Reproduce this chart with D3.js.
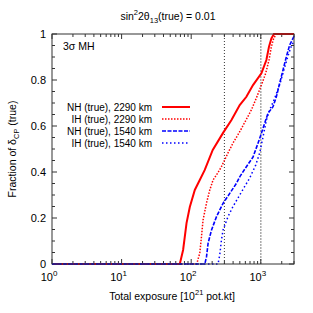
<!DOCTYPE html>
<html>
<head>
<meta charset="utf-8">
<script src="https://cdn.jsdelivr.net/npm/d3@7"></script>
<style>
body { margin: 0; background: #fff; }
text { font-family: "Liberation Sans", Arial, sans-serif; fill: #000; }
</style>
</head>
<body>
<div id="chart"></div>
<script>
// data: [exposure, fraction]
var nh2290 = [[1,0],[68.6,0],[76.5,0.061],[85.7,0.178],[95.5,0.248],[112.7,0.322],[132.8,0.365],[156.7,0.409],[204,0.496],[287,0.570],[379,0.626],[498,0.691],[621,0.727],[773,0.778],[1020,0.829],[1203,0.887],[1312,0.945],[1420,0.981],[1546,1],[3000,1]]
var ih2290 = [[1,0],[120,0],[133,0.048],[140.5,0.119],[148,0.191],[166,0.265],[185,0.322],[206,0.365],[240,0.395],[272,0.423],[338,0.483],[399,0.526],[498,0.575],[733,0.670],[865,0.722],[1020,0.778],[1176,0.829],[1312,0.887],[1420,0.945],[1531,0.981],[1674,1],[3000,1]]
var nh1540 = [[1,0],[157,0],[166,0.032],[175,0.091],[196,0.148],[231,0.206],[287,0.264],[358,0.307],[447,0.351],[498,0.379],[621,0.423],[773,0.465],[912,0.525],[1020,0.568],[1137,0.612],[1268,0.655],[1497,0.684],[1674,0.727],[1868,0.786],[2083,0.843],[2329,0.901],[2599,0.952],[2900,0.981],[3000,0.99]]
var ih1540 = [[1,0],[243,0],[257,0.039],[272,0.104],[287,0.148],[338,0.206],[399,0.250],[498,0.300],[693,0.374],[845,0.43],[964,0.483],[1077,0.553],[1203,0.626],[1342,0.670],[1583,0.72],[1868,0.78],[2133,0.84],[2432,0.90],[2685,0.94],[3000,0.97]]

var seriesNames = ["NH (true), 2290 km", "IH (true), 2290 km", "NH (true), 1540 km", "IH (true), 1540 km"]
var seriesData = [nh2290, ih2290, nh1540, ih1540]
var seriesColor = ["#ff0000", "#ff0000", "#0000ff", "#0000ff"]
var seriesDash = [null, "1.5,1.5", "4,1.5", "1.5,2.5"]
var seriesWidth = [2, 1.5, 1.6, 1.5]

var yTicks = [0, 0.2, 0.4, 0.6, 0.8, 1]
var xTicks = [1, 10, 100, 1000]
var xMarks = [300, 1000]

var width = 313
var height = 313
var margin = {left: 52, right: 19, top: 34, bottom: 49}

var svg = d3.select("#chart").append("svg")
    .attr("width", width)
    .attr("height", height)

var x = d3.scaleLog().domain([1, 3000]).range([margin.left, width - margin.right])
var y = d3.scaleLinear().domain([0, 1]).range([height - margin.bottom, margin.top])

// minor ticks
var xMinor = []
for (var e = 0; e < 4; e++) {
    for (var k = 2; k <= 9; k++) {
        var v = k * Math.pow(10, e)
        if (v <= 3000) xMinor.push(v)
    }
}
var yMinor = d3.range(0, 1.001, 0.05)

var g = svg.append("g")

// marker lines at 300 and 1000
g.append("line")
    .attr("x1", x(xMarks[0])).attr("x2", x(xMarks[0]))
    .attr("y1", y(0)).attr("y2", y(1))
    .attr("stroke", "#000").attr("stroke-width", 0.8).attr("stroke-dasharray", "1,2")
g.append("line")
    .attr("x1", x(xMarks[1])).attr("x2", x(xMarks[1]))
    .attr("y1", y(0)).attr("y2", y(1))
    .attr("stroke", "#aaa").attr("stroke-width", 1.5).attr("stroke-dasharray", "2,1")

// ticks (inward, both sides)
var tickG = g.append("g").attr("stroke", "#333").attr("stroke-width", 1)
xMinor.forEach(function (v) {
    tickG.append("line").attr("x1", x(v)).attr("x2", x(v)).attr("y1", y(0)).attr("y2", y(0) - 3)
    tickG.append("line").attr("x1", x(v)).attr("x2", x(v)).attr("y1", y(1)).attr("y2", y(1) + 3)
})
xTicks.forEach(function (v) {
    tickG.append("line").attr("x1", x(v)).attr("x2", x(v)).attr("y1", y(0)).attr("y2", y(0) - 5)
    tickG.append("line").attr("x1", x(v)).attr("x2", x(v)).attr("y1", y(1)).attr("y2", y(1) + 5)
})
yMinor.forEach(function (v) {
    var major = Math.abs(v * 5 - Math.round(v * 5)) < 1e-6
    var len = major ? 5 : 3
    tickG.append("line").attr("x1", x(1)).attr("x2", x(1) + len).attr("y1", y(v)).attr("y2", y(v))
    tickG.append("line").attr("x1", x(3000)).attr("x2", x(3000) - len).attr("y1", y(v)).attr("y2", y(v))
})

// curves
var line = d3.line().x(function (d) { return x(d[0]) }).y(function (d) { return y(d[1]) })
seriesData.forEach(function (s, i) {
    g.append("path")
        .datum(s)
        .attr("d", line)
        .attr("fill", "none")
        .attr("stroke", seriesColor[i])
        .attr("stroke-width", seriesWidth[i])
        .attr("stroke-dasharray", seriesDash[i])
})

// frame
g.append("rect")
    .attr("x", x(1)).attr("y", y(1))
    .attr("width", x(3000) - x(1)).attr("height", y(0) - y(1))
    .attr("fill", "none").attr("stroke", "#333").attr("stroke-width", 1)

// y tick labels
yTicks.forEach(function (v) {
    svg.append("text")
        .attr("x", x(1) - 6).attr("y", y(v) + 4)
        .attr("text-anchor", "end")
        .style("font-size", "11px")
        .text(v === 0 || v === 1 ? String(v) : v.toFixed(1))
})

// x tick labels 10^n
xTicks.forEach(function (v, i) {
    var t = svg.append("text")
        .attr("x", x(v) - 3).attr("y", y(0) + 17)
        .attr("text-anchor", "middle")
        .style("font-size", "11px")
    t.append("tspan").text("10")
    t.append("tspan").attr("dy", -5).style("font-size", "8px").text(String(i))
})

// axis titles
var xl = svg.append("text")
    .attr("x", 172).attr("y", 300)
    .attr("text-anchor", "middle")
    .style("font-size", "10.5px")
xl.append("tspan").text("Total exposure [10")
xl.append("tspan").attr("dy", -5).style("font-size", "7.5px").text("21")
xl.append("tspan").attr("dy", 5).text(" pot.kt]")

var yl = svg.append("text")
    .attr("transform", "translate(16," + ((y(0) + y(1)) / 2) + ") rotate(-90)")
    .attr("text-anchor", "middle")
    .style("font-size", "10.5px")
yl.append("tspan").text("Fraction of δ")
yl.append("tspan").attr("dy", 3).style("font-size", "7.5px").text("CP")
yl.append("tspan").attr("dy", -3).text(" (true)")

// title
var tt = svg.append("text")
    .attr("x", 168).attr("y", 20)
    .attr("text-anchor", "middle")
    .style("font-size", "10.5px")
tt.append("tspan").text("sin")
tt.append("tspan").attr("dy", -5).style("font-size", "7.5px").text("2")
tt.append("tspan").attr("dy", 5).text("2θ")
tt.append("tspan").attr("dy", 3).style("font-size", "7.5px").text("13")
tt.append("tspan").attr("dy", -3).text("(true) = 0.01")

// 3 sigma label
svg.append("text")
    .attr("x", 63).attr("y", 50)
    .style("font-size", "10.5px")
    .text("3σ MH")

// legend
seriesNames.forEach(function (name, i) {
    var ly = 107 + i * 12
    svg.append("text")
        .attr("x", 152).attr("y", ly + 4)
        .attr("text-anchor", "end")
        .style("font-size", "10px")
        .text(name)
    svg.append("line")
        .attr("x1", 162).attr("x2", 190)
        .attr("y1", ly).attr("y2", ly)
        .attr("stroke", seriesColor[i])
        .attr("stroke-width", seriesWidth[i])
        .attr("stroke-dasharray", seriesDash[i])
})
</script>
</body>
</html>
